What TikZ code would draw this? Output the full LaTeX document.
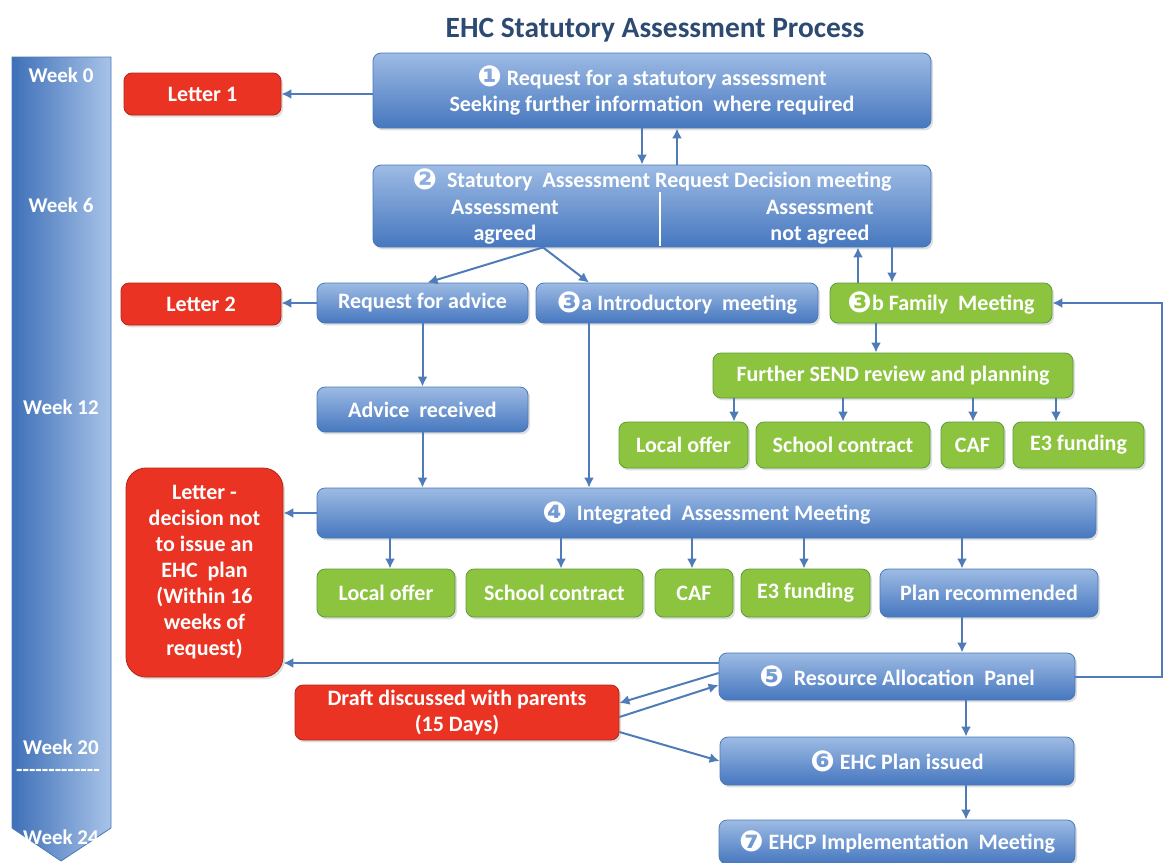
\documentclass[tikz,border=0pt]{standalone}
\usepackage{fontspec}
\setmainfont{Carlito}
\newfontfamily\dingfont{DejaVu Sans}
\usetikzlibrary{arrows.meta,shadows}

\definecolor{boxtop}{HTML}{9DBBE4}
\definecolor{boxbot}{HTML}{4677BF}
\definecolor{boxline}{HTML}{4A7AB5}
\definecolor{greenfill}{HTML}{8CC43F}
\definecolor{greenline}{HTML}{5E9A3A}
\definecolor{redfill}{HTML}{EB3323}
\definecolor{redline}{HTML}{B0261A}
\definecolor{arrowblue}{HTML}{4F7CB8}
\definecolor{titleblue}{HTML}{2C4A72}
\definecolor{weekdark}{HTML}{3E70B8}
\definecolor{weeklight}{HTML}{A8C3E8}

\newcommand{\stepno}[1]{\raisebox{-0.8pt}{\dingfont\fontsize{14.5}{13}\selectfont #1}}

\tikzset{
  box/.style={rounded corners=4pt, text=white, align=center, inner sep=0pt,
    font=\fontsize{11}{13}\selectfont\bfseries,
    drop shadow={opacity=0.25, shadow xshift=1pt, shadow yshift=-1.2pt}},
  bluebox/.style={box, draw=boxline, top color=boxtop, bottom color=boxbot},
  greenbox/.style={box, draw=greenline, fill=greenfill},
  redbox/.style={box, draw=redline, fill=redfill},
  intext/.style={text=white, align=center, font=\fontsize{11}{13}\selectfont\bfseries},
  week/.style={text=white, font=\fontsize{10.5}{12}\selectfont\bfseries},
  link/.style={arrowblue, line width=1pt, -{Latex[length=5pt,width=5pt]}},
}

\begin{document}
\begin{tikzpicture}[x=0.5pt,y=-0.5pt]
  \useasboundingbox (0,0) rectangle (1166,862);

  % week scale
  \shade[left color=weekdark, right color=weeklight, draw=boxline]
    (12,57) -- (111,57) -- (111,828) -- (61,861) -- (12,828) -- cycle;
  \node[week] (w0) at (61,75) {Week 0};
  \node[week] (w6) at (61,205) {Week 6};
  \node[week] (w12) at (61,407) {Week 12};
  \node[week] (w20) at (61,747) {Week 20};
  \node[week] (wdash) at (58,773) {-{}-{}-{}-{}-{}-{}-{}-{}-{}-{}-{}-{}-};
  \node[week] (w24) at (61,837) {Week 24};

  \node[text=titleblue, font=\fontsize{14.7}{16}\selectfont\bfseries] (title) at (655,30)
    {EHC Statutory Assessment Process};

  % decision stage
  \node[bluebox, minimum width=279pt, minimum height=37.5pt] (req) at (652,90.5)
    {\stepno{❶} Request for a statutory assessment\\Seeking further information \ where required};
  \node[redbox, minimum width=78.5pt, minimum height=21pt] (letter1) at (202.5,94) {Letter 1};
  \node[bluebox, minimum width=279pt, minimum height=41pt] (dec) at (652,206) {};
  \node[intext] (dechead) at (652,180) {\stepno{❷} \ Statutory \ Assessment Request Decision meeting};
  \node[intext] (agreed) at (505,222) {Assessment\\agreed};
  \node[intext] (notagreed) at (820,222) {Assessment\\not agreed};
  \draw[white, line width=0.8pt] (660,192) -- (660,246);

  % stage 3
  \node[bluebox, minimum width=105.5pt, minimum height=20pt] (rfa) at (422.5,303) {Request for advice};
  \node[redbox, minimum width=80pt, minimum height=21pt] (letter2) at (201,304) {Letter 2};
  \node[bluebox, minimum width=141pt, minimum height=20pt] (intro) at (677,303)
    {\stepno{❸}a Introductory \ meeting};
  \node[greenbox, minimum width=111pt, minimum height=20pt] (family) at (941,303)
    {\stepno{❸}b Family \ Meeting};
  \node[bluebox, minimum width=105.5pt, minimum height=22.5pt] (adv) at (422.5,409.5) {Advice \ received};
  \node[greenbox, minimum width=180pt, minimum height=22.5pt] (send) at (893,375.5)
    {Further SEND review and planning};
  \node[greenbox, minimum width=64.5pt, minimum height=23pt] (lo1) at (683.5,445) {Local offer};
  \node[greenbox, minimum width=87pt, minimum height=23pt] (sc1) at (843,445) {School contract};
  \node[greenbox, minimum width=31.5pt, minimum height=23pt] (caf1) at (972.5,445) {CAF};
  \node[greenbox, minimum width=65.5pt, minimum height=23pt] (e31) at (1078.5,445) {E3 funding};

  % stage 4
  \node[bluebox, minimum width=389.5pt, minimum height=25pt] (iam) at (706.5,513)
    {\stepno{❹} \ Integrated \ Assessment Meeting};
  \node[redbox, rounded corners=10pt, minimum width=78.5pt, minimum height=104.5pt] (notissue) at (204.5,572.5)
    {Letter -\\decision not\\to issue an\\EHC \ plan\\(Within 16\\weeks of\\request)};
  \node[greenbox, minimum width=69pt, minimum height=24pt] (lo2) at (386,593) {Local offer};
  \node[greenbox, minimum width=88.5pt, minimum height=24pt] (sc2) at (554.5,593) {School contract};
  \node[greenbox, minimum width=39pt, minimum height=24pt] (caf2) at (694,593) {CAF};
  \node[greenbox, minimum width=64.5pt, minimum height=24pt] (e32) at (805.5,593) {E3 funding};
  \node[bluebox, minimum width=109pt, minimum height=24pt] (plan) at (989,593) {Plan recommended};

  % stages 5 to 7
  \node[bluebox, minimum width=178pt, minimum height=23.5pt] (rap) at (897,676.5)
    {\stepno{❺} \ Resource Allocation \ Panel};
  \node[redbox, minimum width=162pt, minimum height=27.5pt] (draft) at (457,712.5)
    {Draft discussed with parents\\(15 Days)};
  \node[bluebox, minimum width=177pt, minimum height=24pt] (ehc) at (897,761)
    {\stepno{❻} EHC Plan issued};
  \node[bluebox, minimum width=178pt, minimum height=22pt] (impl) at (897,842)
    {\stepno{❼} EHCP Implementation \ Meeting};

  % connectors
  \draw[link] (req.west |- letter1) -- (letter1.east);
  \draw[link] ([xshift=-5pt]req.south) -- ([xshift=-5pt]dec.north);
  \draw[link] ([xshift=12.5pt]dec.north) -- ([xshift=12.5pt]req.south);
  \coordinate (split) at ([xshift=-54.5pt]dec.south);
  \draw[link] (split) -- ([xshift=2.5pt]rfa.north);
  \draw[link] (split) -- ([xshift=-44pt]intro.north);
  \coordinate (up3b) at ([xshift=-41.5pt]family.north);
  \coordinate (dn3b) at ([xshift=-24.5pt]family.north);
  \draw[link] (up3b) -- (up3b |- dec.south);
  \draw[link] (dn3b |- dec.south) -- (dn3b);
  \draw[link] (rfa.west) -- (rfa.west -| letter2.east);
  \draw[link] (rfa) -- (adv);
  \draw[link] (adv.south) -- (adv.south |- iam.north);
  \coordinate (c3a) at ([xshift=-44pt]intro.south);
  \draw[link] (c3a) -- (c3a |- iam.north);
  \coordinate (c3b) at ([xshift=-32.5pt]family.south);
  \draw[link] (c3b) -- (c3b |- send.north);
  \foreach \x/\b in {734/lo1, 843/sc1, 973/caf1, 1056/e31}
    \draw[link] (\x,0 |- send.south) -- (\x,0 |- \b.north);
  \draw[link] (iam.west) -- (iam.west -| notissue.east);
  \foreach \x/\b in {390/lo2, 561/sc2, 692/caf2, 804/e32, 962/plan}
    \draw[link] (\x,0 |- iam.south) -- (\x,0 |- \b.north);
  \draw[link] (962,0 |- plan.south) -- (962,0 |- rap.north);
  \coordinate (rapl) at ([yshift=6.75pt]rap.west);
  \draw[link] (rapl) -- (rapl -| notissue.east);
  \draw[link] ([yshift=1.75pt]rap.west) -- ([yshift=4.75pt]draft.east);
  \draw[link] ([yshift=-2.25pt]draft.east) -- ([yshift=-4.25pt]rap.west);
  \draw[link] ([yshift=-9.75pt]draft.east) -- (ehc.west);
  \draw[link] (966,0 |- rap.south) -- (966,0 |- ehc.north);
  \draw[link] (966,0 |- ehc.south) -- (966,0 |- impl.north);
  \draw[link] (rap.east) -- (1162,0 |- rap.east) -- (1162,0 |- family.east) -- (family.east);
\end{tikzpicture}
\end{document}
